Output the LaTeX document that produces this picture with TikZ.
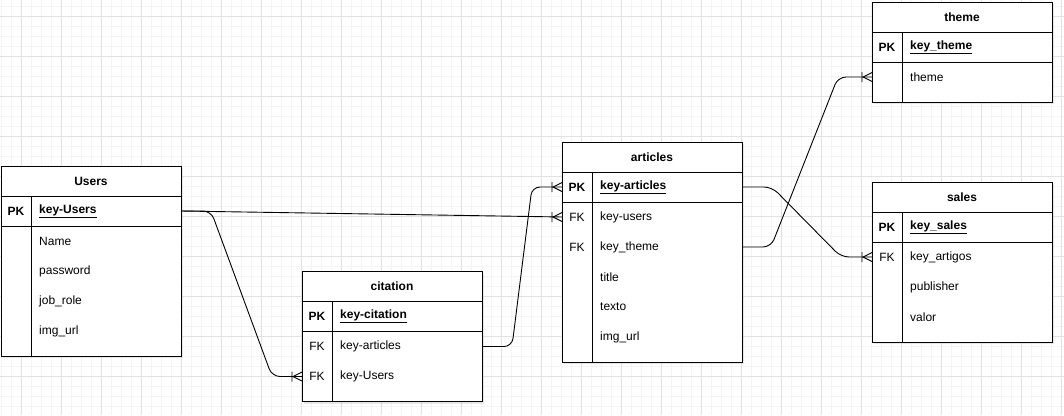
\documentclass[tikz,border=0pt]{standalone}
\usepackage{fontspec}
\setmainfont{Liberation Sans}
\usepackage{tikz}
\usetikzlibrary{calc,shadows}

\definecolor{gridmajor}{HTML}{E2E2E2}
\definecolor{gridminor}{HTML}{F4F4F4}

\tikzset{
  tblbox/.style={draw, fill=white, line width=1pt, minimum width=180pt, inner sep=0pt, outer sep=0pt,
    drop shadow={opacity=0.18, shadow xshift=2pt, shadow yshift=-2pt}},
  tblline/.style={draw, line width=1pt},
  txt/.style={inner sep=0pt, font=\fontsize{12}{14}\selectfont},
  rel/.style={draw, line width=0.9pt, rounded corners=8pt},
  many/.pic={\draw[line width=0.9pt] (-10,-5) -- (-10,5) (-9,0) -- (0,-4.5) (-9,0) -- (0,4.5);}
}

% #1 name, #2 top left corner, #3 title, #4 primary key, #5 number of fields, #6 fields (mark/field)
\newcommand{\ertable}[6]{%
  \node[tblbox, minimum height=30pt, anchor=north west, txt, font=\fontsize{12}{14}\selectfont\bfseries] (#1) at (#2) {#3};
  \node[tblbox, minimum height=30pt, anchor=north west] (#1-pk) at (#1.south west) {};
  \node[tblbox, minimum height={(30*#5+10)*1pt}, anchor=north west] (#1-body) at (#1-pk.south west) {};
  \draw[tblline] ($(#1-pk.north west)+(30,0)$) -- ($(#1-body.south west)+(30,0)$);
  \node[txt] at ($(#1-pk.west)+(15,0)$) {\textbf{PK}};
  \node[txt, anchor=west] at ($(#1-pk.west)+(38,0)$) {\textbf{\underline{#4}}};
  \foreach \m/\f [count=\i] in {#6} {
    \coordinate (#1-w\i) at ($(#1-body.north west)+(0,30*\i-15)$);
    \coordinate (#1-e\i) at ($(#1-body.north east)+(0,30*\i-15)$);
    \node[txt] at ($(#1-w\i)+(15,0)$) {\m};
    \node[txt, anchor=west] at ($(#1-w\i)+(38,0)$) {\f};
  }%
}

\begin{document}
\begin{tikzpicture}[x=1pt, y=-1pt]
\useasboundingbox (0,0) rectangle (1064,415);
\fill[white] (0,0) rectangle (1064,415);

% grid
\foreach \x in {1,11,...,1061} \draw[gridminor, line width=0.8pt] (\x,0) -- (\x,415);
\foreach \y in {6,16,...,406} \draw[gridminor, line width=0.8pt] (0,\y) -- (1064,\y);
\foreach \x in {21,61,...,1061} \draw[gridmajor, line width=0.8pt] (\x,0) -- (\x,415);
\foreach \y in {16,56,...,376} \draw[gridmajor, line width=0.8pt] (0,\y) -- (1064,\y);

% tables
\ertable{users}{1,166}{Users}{key-Users}{4}{{}/Name, {}/password, {}/job\_role, {}/img\_url}
\ertable{citation}{302,271.5}{citation}{key-citation}{2}{FK/key-articles, FK/key-Users}
\ertable{articles}{562,142}{articles}{key-articles}{5}{FK/key-users, FK/key\_theme, {}/title, {}/texto, {}/img\_url}
\ertable{theme}{872,2}{theme}{key\_theme}{1}{{}/theme}
\ertable{sales}{872,182}{sales}{key\_sales}{3}{FK/key\_artigos, {}/publisher, {}/valor}

% relations
\draw[rel] (users-pk.east) -- (articles-w1);
\pic at (articles-w1) {many};
\draw[rel] (users-pk.east) -- ++(30,0) -- ($(citation-w2)+(-30,0)$) -- (citation-w2);
\pic at (citation-w2) {many};
\draw[rel] (citation-e1) -- ++(30,0) -- ($(articles-pk.west)+(-30,0)$) -- (articles-pk.west);
\pic at (articles-pk.west) {many};
\draw[rel] (articles-e2) -- ++(29,0) -- ($(theme-w1)+(-34,0)$) -- (theme-w1);
\pic at (theme-w1) {many};
\draw[rel] (articles-pk.east) -- ++(30,0) -- ($(sales-w1)+(-31,0)$) -- (sales-w1);
\pic at (sales-w1) {many};
\end{tikzpicture}
\end{document}
